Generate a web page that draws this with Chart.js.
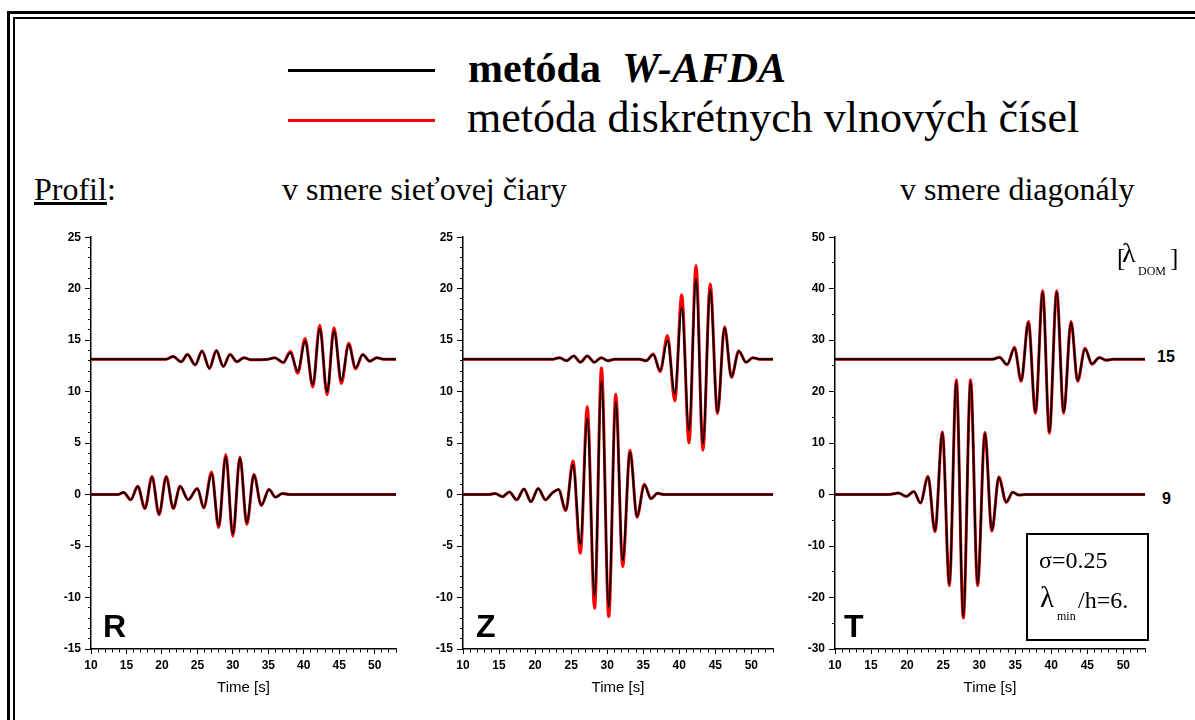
<!DOCTYPE html>
<html>
<head>
<meta charset="utf-8">
<script src="https://cdn.jsdelivr.net/npm/chart.js@4"></script>
<style>
  body { margin: 0; width: 1195px; height: 720px; overflow: hidden; background: #fff; position: relative; }
  .frame1 { position: absolute; left: 7px; top: 11px; width: 1300px; height: 800px; border: 3px solid #000; }
  .frame2 { position: absolute; left: 13px; top: 17px; width: 1300px; height: 800px; border: 2px solid #000; }
  .t { position: absolute; white-space: nowrap; line-height: 1; color: #000; }
  .serif { font-family: "Liberation Serif", "Times New Roman", serif; }
  .sans { font-family: "Liberation Sans", Arial, sans-serif; font-weight: bold; }
  .leg { position: absolute; left: 288px; width: 147px; height: 3px; }
  canvas { position: absolute; }
  .box { position: absolute; left: 1026px; top: 533px; width: 123px; height: 108px; border: 2px solid #000; box-sizing: border-box; }
</style>
</head>
<body>
<div class="frame1"></div>
<div class="frame2"></div>

<div class="leg" style="top:69px;background:#000"></div>
<div class="leg" style="top:119px;background:#f00"></div>
<div class="t serif" style="left:468px;top:47px;font-size:42px"><b>metóda&nbsp; <i>W-AFDA</i></b></div>
<div class="t serif" style="left:467px;top:96px;font-size:44px">metóda diskrétnych vlnových čísel</div>

<div class="t serif" style="left:34px;top:173px;font-size:32px"><u>Profil</u>:</div>
<div class="t serif" style="left:282px;top:173px;font-size:32px">v smere sieťovej čiary</div>
<div class="t serif" style="left:900px;top:173px;font-size:32px">v smere diagonály</div>

<canvas id="panelR" width="370" height="480" style="left:30px;top:226px"></canvas>
<canvas id="panelZ" width="375" height="480" style="left:402px;top:226px"></canvas>
<canvas id="panelT" width="373" height="480" style="left:776px;top:226px"></canvas>

<div class="t sans" id="letR" style="left:103px;top:610px;font-size:32px"></div>
<div class="t sans" id="letZ" style="left:476px;top:610px;font-size:32px"></div>
<div class="t sans" id="letT" style="left:844px;top:610px;font-size:32px"></div>
<div class="t sans" id="lab15" style="left:1157px;top:349px;font-size:16px"></div>
<div class="t sans" id="lab9" style="left:1162px;top:491px;font-size:16px"></div>

<div class="t serif" style="left:1117px;top:245px;font-size:25px">[</div>
<div class="t serif" style="left:1122px;top:239px;font-size:28px">λ</div>
<div class="t serif" style="left:1138px;top:265px;font-size:12px">DOM</div>
<div class="t serif" style="left:1170px;top:245px;font-size:25px">]</div>

<div class="box"></div>
<div class="t serif" style="left:1039px;top:548px;font-size:24px">σ=0.25</div>
<div class="t serif" style="left:1040px;top:583px;font-size:29px">λ</div>
<div class="t serif" style="left:1057px;top:610px;font-size:12px">min</div>
<div class="t serif" style="left:1078px;top:588px;font-size:24px">/h=6.</div>

<script>
// picked extrema of each trace: time [s] and amplitude
const rUpT = [10, 20.6, 21.6, 22.7, 23.6, 24.7, 25.65, 26.7, 27.67, 28.65, 29.6, 30.58, 31.56, 32.5, 35.0, 35.9, 37.1, 38.1, 39.16, 40.18, 41.27, 42.25, 43.28, 44.26, 45.3, 46.33, 47.3, 48.3, 49.3, 50.3, 51.2, 53];
const rUpBlack = [13.15, 13.15, 13.4, 12.9, 13.6, 12.6, 13.95, 12.25, 14.0, 12.45, 13.6, 12.9, 13.3, 13.1, 13.15, 13.3, 12.85, 13.75, 12.0, 14.9, 10.7, 16.1, 10.0, 15.9, 11.1, 14.55, 12.3, 13.6, 12.95, 13.3, 13.15, 13.15];
const rUpRed = [13.15, 13.15, 13.4, 12.9, 13.6, 12.6, 13.95, 12.25, 14.0, 12.45, 13.6, 12.9, 13.3, 13.1, 13.15, 13.3, 12.8, 13.9, 11.8, 15.15, 10.45, 16.45, 9.7, 16.2, 10.8, 14.7, 12.2, 13.6, 12.95, 13.3, 13.15, 13.15];

const rLoT = [10, 13.7, 14.6, 15.6, 16.6, 17.6, 18.6, 19.6, 20.6, 21.6, 22.56, 23.7, 25.0, 25.9, 27.0, 28.0, 29.0, 30.0, 31.0, 31.97, 32.97, 34.0, 35.1, 36.0, 37.0, 38.0, 53];
const rLoBlack = [0, 0, 0.2, -0.5, 0.8, -1.35, 1.7, -1.9, 1.7, -1.35, 0.8, -0.5, 0.6, -1.25, 2.0, -3.0, 3.65, -3.8, 3.5, -2.7, 1.9, -1.05, 0.5, -0.25, 0.1, 0, 0];
const rLoRed = [0, 0, 0.2, -0.5, 0.8, -1.35, 1.75, -1.95, 1.75, -1.35, 0.8, -0.5, 0.6, -1.3, 2.2, -3.2, 3.9, -4.05, 3.65, -2.9, 1.95, -1.05, 0.5, -0.25, 0.1, 0, 0];

const zUpT = [10, 22.5, 23.4, 24.34, 25.35, 26.3, 27.24, 28.2, 29.17, 30.1, 31.0, 34.5, 35.4, 36.39, 37.35, 38.36, 39.38, 40.34, 41.35, 42.32, 43.28, 44.29, 45.3, 46.28, 47.24, 48.25, 49.26, 50.2, 51.1, 53];
const zUpBlack = [13.15, 13.15, 13.3, 13.0, 13.45, 12.85, 13.45, 12.85, 13.3, 13.0, 13.15, 13.15, 13.0, 13.6, 12.05, 14.95, 9.8, 18.2, 6.25, 20.95, 4.95, 19.9, 8.0, 16.2, 11.4, 13.95, 12.85, 13.3, 13.15, 13.15];
const zUpRed = [13.15, 13.15, 13.3, 13.0, 13.45, 12.85, 13.45, 12.85, 13.3, 13.0, 13.15, 13.15, 13.0, 13.65, 11.95, 15.45, 9.1, 19.4, 5.0, 22.25, 4.3, 20.45, 7.85, 16.3, 11.4, 13.95, 12.85, 13.3, 13.15, 13.15];

const zLoT = [10, 13.6, 14.45, 15.46, 16.43, 17.45, 18.46, 19.42, 20.43, 21.45, 22.3, 23.25, 24.25, 25.26, 26.28, 27.24, 28.25, 29.21, 30.22, 31.19, 32.15, 33.17, 34.14, 35.15, 36.07, 36.98, 38.0, 53];
const zLoBlack = [0, 0, 0.1, -0.2, 0.25, -0.5, 0.55, -0.7, 0.6, -0.5, 0.1, 0.5, -1.5, 2.9, -4.8, 7.4, -9.8, 11.0, -10.9, 9.0, -6.4, 4.1, -2.15, 0.95, -0.4, 0.12, 0, 0];
const zLoRed = [0, 0, 0.1, -0.2, 0.25, -0.5, 0.55, -0.7, 0.6, -0.5, 0.1, 0.5, -1.55, 3.25, -5.7, 8.55, -11.05, 12.3, -11.85, 9.75, -7.0, 4.3, -2.2, 1.0, -0.4, 0.12, 0, 0];

const tUpT = [10, 31.9, 32.82, 33.88, 34.9, 35.82, 36.83, 37.8, 38.81, 39.73, 40.75, 41.72, 42.74, 43.66, 44.68, 45.65, 46.66, 47.6, 48.5, 53];
const tUpBlack = [26.3, 26.3, 26.65, 25.3, 28.45, 22.2, 33.4, 16.05, 39.3, 12.2, 39.3, 16.05, 33.4, 22.2, 28.3, 25.4, 26.6, 26.1, 26.3, 26.3];
const tUpRed = [26.3, 26.3, 26.7, 25.2, 28.6, 22.0, 33.6, 15.8, 39.6, 11.9, 39.6, 15.8, 33.6, 22.0, 28.45, 25.3, 26.65, 26.1, 26.3, 26.3];

const tLoT = [10, 17.5, 18.8, 19.9, 20.93, 21.85, 22.9, 23.87, 24.9, 25.86, 26.83, 27.8, 28.81, 29.78, 30.79, 31.76, 32.73, 33.74, 34.66, 35.5, 36.5, 53];
const tLoBlack = [0, 0, 0.3, -0.35, 0.6, -1.6, 3.4, -7.0, 11.95, -17.4, 22.0, -23.7, 22.0, -17.4, 11.85, -6.9, 3.3, -1.45, 0.45, -0.1, 0, 0];
const tLoRed = [0, 0, 0.3, -0.35, 0.6, -1.65, 3.5, -7.2, 12.15, -17.7, 22.3, -24.0, 22.3, -17.7, 12.05, -7.1, 3.4, -1.5, 0.45, -0.1, 0, 0];

const panelLetters = ['R', 'Z', 'T'];
const profileLabels = ['15', '9'];
const timeLabel = 'Time [s]';

document.getElementById('letR').textContent = panelLetters[0];
document.getElementById('letZ').textContent = panelLetters[1];
document.getElementById('letT').textContent = panelLetters[2];
document.getElementById('lab15').textContent = profileLabels[0];
document.getElementById('lab9').textContent = profileLabels[1];

function trace(t, v, color, width) {
    return {
        data: t.map((x, i) => ({ x: x, y: v[i] })),
        borderColor: color,
        borderWidth: width,
        pointRadius: 0,
        fill: false,
        cubicInterpolationMode: 'monotone'
    };
}

const tickFont = { family: 'Liberation Sans', size: 12, weight: 'bold' };

function makePanel(id, sets, yMin, yMax, yStep, yMajor, yWidth, padRight) {
    new Chart(document.getElementById(id), {
        type: 'line',
        data: { datasets: sets },
        options: {
            responsive: false,
            animation: false,
            devicePixelRatio: 1,
            layout: { padding: { top: 11, right: padRight, left: 0, bottom: 0 } },
            plugins: { legend: { display: false }, tooltip: { enabled: false } },
            scales: {
                x: {
                    type: 'linear', min: 10, max: 53,
                    afterFit: s => { s.height = 57; },
                    border: { color: '#000', width: 1.5 },
                    grid: {
                        drawOnChartArea: false, tickLength: 5, tickColor: '#000', tickWidth: 1,
                        tickBorderDash: c => (c.tick && c.tick.value % 5 === 0) ? [] : [3, 10]
                    },
                    ticks: {
                        stepSize: 1, autoSkip: false, maxRotation: 0, padding: 4, color: '#000', font: tickFont,
                        callback: v => v % 5 === 0 ? String(v) : ''
                    },
                    title: {
                        display: true, text: timeLabel, color: '#000',
                        font: { family: 'Liberation Sans', size: 15 }, padding: { top: 0, bottom: 9 }
                    }
                },
                y: {
                    type: 'linear', min: yMin, max: yMax,
                    afterFit: s => { s.width = yWidth; },
                    border: { color: '#000', width: 1.5 },
                    grid: {
                        drawOnChartArea: false, tickLength: 6, tickColor: '#000', tickWidth: 1,
                        tickBorderDash: c => (c.tick && c.tick.value % yMajor === 0) ? [] : [3, 3],
                        tickBorderDashOffset: c => (c.tick && c.tick.value % yMajor === 0) ? 0 : 3
                    },
                    ticks: {
                        stepSize: yStep, autoSkip: false, padding: 4, color: '#000', font: tickFont,
                        callback: v => v % yMajor === 0 ? String(v) : ''
                    }
                }
            }
        }
    });
}

// black drawn over red (first dataset ends on top)
makePanel('panelR', [
    trace(rUpT, rUpBlack, '#000', 2), trace(rLoT, rLoBlack, '#000', 2),
    trace(rUpT, rUpRed, '#f00', 3), trace(rLoT, rLoRed, '#f00', 3)
], -15, 25, 1, 5, 61, 4);

makePanel('panelZ', [
    trace(zUpT, zUpBlack, '#000', 2), trace(zLoT, zLoBlack, '#000', 2),
    trace(zUpT, zUpRed, '#f00', 3), trace(zLoT, zLoRed, '#f00', 3)
], -15, 25, 1, 5, 61, 1);

makePanel('panelT', [
    trace(tUpT, tUpBlack, '#000', 2), trace(tLoT, tLoBlack, '#000', 2),
    trace(tUpT, tUpRed, '#f00', 3), trace(tLoT, tLoRed, '#f00', 3)
], -30, 50, 5, 10, 59, 3);
</script>
</body>
</html>
